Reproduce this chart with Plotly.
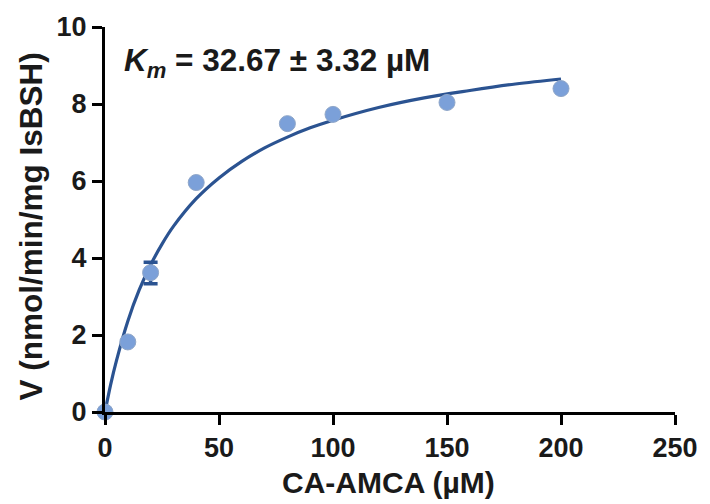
import plotly.graph_objects as go

# Measured data (CA-AMCA concentration, µM) and velocity (nmol/min/mg IsBSH)
conc = [0, 10, 20, 40, 80, 100, 150, 200]
velocity = [0.0, 1.82, 3.62, 5.96, 7.49, 7.73, 8.04, 8.40]
err_plus = [0, 0, 0.27, 0, 0, 0, 0, 0]
err_minus = [0, 0, 0.29, 0, 0, 0, 0, 0]

# Fitted curve
fit_x = [0, 2.5, 5, 10, 15, 20, 25, 30, 40, 50, 60, 70, 80, 90, 100, 120, 140, 160, 180, 200]
fit_y = [0, 0.72, 1.33, 2.36, 3.17, 3.82, 4.36, 4.82, 5.54, 6.08, 6.51, 6.86, 7.14, 7.38, 7.58,
         7.91, 8.16, 8.35, 8.52, 8.65]

x_ticks = [0, 50, 100, 150, 200, 250]
y_ticks = [0, 2, 4, 6, 8, 10]

FONT = "Liberation Sans, Arial, Helvetica, sans-serif"
TXT = "#1a1a1a"
LINE_BLUE = "#2b5391"
MARK_BLUE = "#7ba0d9"

fig = go.Figure()
fig.add_trace(go.Scatter(
    x=fit_x, y=fit_y, mode="lines",
    line=dict(color=LINE_BLUE, width=3.2, shape="spline"),
    hoverinfo="skip", showlegend=False, cliponaxis=False,
))
fig.add_trace(go.Scatter(
    x=conc, y=velocity, mode="markers",
    marker=dict(size=16, color=MARK_BLUE, line=dict(color="#8fa6c8", width=1)),
    error_y=dict(type="data", array=err_plus, arrayminus=err_minus, symmetric=False,
                 color=LINE_BLUE, thickness=3.5, width=7),
    showlegend=False, cliponaxis=False,
))

axis_common = dict(
    showline=True, linecolor="black", linewidth=3,
    ticks="outside", ticklen=10, tickwidth=3, tickcolor="black",
    showgrid=False, zeroline=False,
    tickfont=dict(family=FONT, size=27, color=TXT, weight="bold"),
)
fig.update_xaxes(range=[0, 250], tickvals=x_ticks, **axis_common)
fig.update_yaxes(range=[0, 10], tickvals=y_ticks, **axis_common)

fig.update_layout(
    width=710, height=504,
    margin=dict(l=105, r=28.5, t=25, b=91.7),
    plot_bgcolor="white", paper_bgcolor="white",
    annotations=[
        dict(text="CA-AMCA (µM)", xref="paper", yref="paper", x=0.498, y=0,
             xanchor="center", yanchor="middle", yshift=-70, showarrow=False,
             font=dict(family=FONT, size=30, color=TXT, weight="bold")),
        dict(text="V (nmol/min/mg IsBSH)", xref="paper", yref="paper", x=0, y=0.482,
             xanchor="center", yanchor="middle", xshift=-74, textangle=-90, showarrow=False,
             font=dict(family=FONT, size=31.5, color=TXT, weight="bold")),
        dict(text="<i>K<sub>m</sub></i> = 32.67 ± 3.32 µM", xref="paper", yref="paper",
             x=0, y=1, xanchor="left", yanchor="middle", xshift=17, yshift=-35,
             showarrow=False,
             font=dict(family=FONT, size=31.5, color=TXT, weight="bold")),
    ],
)

fig.write_html("out.html")
